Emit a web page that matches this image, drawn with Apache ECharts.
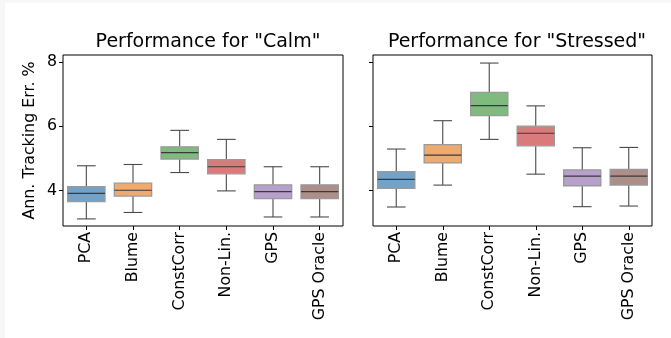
<!DOCTYPE html>
<html>
<head>
<meta charset="utf-8">
<script src="https://cdn.jsdelivr.net/npm/echarts@6/dist/echarts.min.js"></script>
<style>
html,body{margin:0;padding:0;background:#f7f7f7;}
#chart{width:671px;height:338px;}
</style>
</head>
<body>
<div id="chart"></div>
<script>
// ---- data ----
var categories = ['PCA', 'Blume', 'ConstCorr', 'Non-Lin.', 'GPS', 'GPS Oracle'];
// [lower whisker, Q1, median, Q3, upper whisker]
var calm = [
  [3.12, 3.66, 3.91, 4.12, 4.77],
  [3.32, 3.83, 4.01, 4.23, 4.81],
  [4.56, 4.98, 5.18, 5.36, 5.87],
  [3.99, 4.52, 4.74, 4.96, 5.59],
  [3.18, 3.75, 3.97, 4.18, 4.74],
  [3.18, 3.75, 3.97, 4.18, 4.74]
];
var stressed = [
  [3.49, 4.07, 4.35, 4.59, 5.29],
  [4.17, 4.86, 5.10, 5.43, 6.17],
  [5.59, 6.33, 6.64, 7.05, 7.96],
  [4.51, 5.39, 5.78, 6.00, 6.63],
  [3.50, 4.15, 4.45, 4.64, 5.33],
  [3.52, 4.17, 4.45, 4.66, 5.34]
];
var yTicks = [4, 6, 8];
var titles = ['Performance for "Calm"', 'Performance for "Stressed"'];
var yLabel = 'Ann. Tracking Err. %';

// ---- styling ----
var colors = ['#73a2c8', '#eeab70', '#7fbb7f', '#da7b7b', '#b8a0cc', '#ae8f88'];
var FONT = 'DejaVu Sans';
var TICK_FS = 15.8;

function rows(arr) {
  return arr.map(function (r, i) { return [i].concat(r); });
}

function renderBox(params, api) {
  var i = api.value(0);
  var band = api.size([1, 0])[0];
  var bw = band * 0.8;
  var cw = bw * 0.5;
  var lo = api.coord([i, api.value(1)]);
  var q1 = api.coord([i, api.value(2)]);
  var md = api.coord([i, api.value(3)]);
  var q3 = api.coord([i, api.value(4)]);
  var hi = api.coord([i, api.value(5)]);
  var x = lo[0];
  var wStyle = { stroke: '#4a4a4a', lineWidth: 1.1, fill: null };
  return {
    type: 'group',
    children: [
      { type: 'line', shape: { x1: x, y1: hi[1], x2: x, y2: q3[1] }, style: wStyle },
      { type: 'line', shape: { x1: x, y1: q1[1], x2: x, y2: lo[1] }, style: wStyle },
      { type: 'line', shape: { x1: x - cw / 2, y1: hi[1], x2: x + cw / 2, y2: hi[1] }, style: wStyle },
      { type: 'line', shape: { x1: x - cw / 2, y1: lo[1], x2: x + cw / 2, y2: lo[1] }, style: wStyle },
      { type: 'rect', shape: { x: x - bw / 2, y: q3[1], width: bw, height: q1[1] - q3[1] },
        style: { fill: colors[i], stroke: '#9a9a9a', lineWidth: 1.3 } },
      { type: 'line', shape: { x1: x - bw / 2, y1: md[1], x2: x + bw / 2, y2: md[1] },
        style: { stroke: '#3a3a3a', lineWidth: 1.2 } }
    ]
  };
}

var grids = [
  { left: 63, top: 55, width: 280, height: 171, show: true, borderColor: '#000', borderWidth: 1, backgroundColor: '#fff' },
  { left: 373, top: 55, width: 279, height: 171, show: true, borderColor: '#000', borderWidth: 1, backgroundColor: '#fff' }
];

function xAxis(g) {
  return {
    type: 'category', gridIndex: g, data: categories,
    axisLine: { show: false },
    axisTick: { show: true, alignWithLabel: true, length: 4, lineStyle: { color: '#000' } },
    axisLabel: { rotate: 90, margin: 6, fontFamily: FONT, fontSize: TICK_FS, color: '#000', interval: 0 },
    splitLine: { show: false }
  };
}
function yAxis(g, showLabels) {
  return {
    type: 'value', gridIndex: g, min: 2.9, max: 8.21,
    axisLine: { show: false },
    axisTick: { show: true, length: 4, lineStyle: { color: '#000' }, customValues: yTicks },
    axisLabel: { show: showLabels, margin: 6, fontFamily: FONT, fontSize: TICK_FS, color: '#000', customValues: yTicks },
    splitLine: { show: false },
    name: showLabels ? yLabel : '',
    nameLocation: 'middle', nameGap: 25,
    nameTextStyle: { fontFamily: FONT, fontSize: TICK_FS, color: '#000' }
  };
}

var chart = echarts.init(document.getElementById('chart'), null, { renderer: 'canvas' });
chart.setOption({
  animation: false,
  backgroundColor: 'transparent',
  graphic: [{ type: 'rect', z: -100, shape: { x: 5, y: 3, width: 666, height: 335 }, style: { fill: '#fff' }, silent: true }],
  title: [
    { text: titles[0], left: 203, top: 28, textAlign: 'center',
      textStyle: { fontFamily: FONT, fontSize: 19, fontWeight: 'normal', color: '#000' } },
    { text: titles[1], left: 512, top: 28, textAlign: 'center',
      textStyle: { fontFamily: FONT, fontSize: 19, fontWeight: 'normal', color: '#000' } }
  ],
  grid: grids,
  xAxis: [xAxis(0), xAxis(1)],
  yAxis: [yAxis(0, true), yAxis(1, false)],
  series: [
    { type: 'custom', xAxisIndex: 0, yAxisIndex: 0, renderItem: renderBox,
      encode: { x: 0, y: [1, 2, 3, 4, 5] }, data: rows(calm) },
    { type: 'custom', xAxisIndex: 1, yAxisIndex: 1, renderItem: renderBox,
      encode: { x: 0, y: [1, 2, 3, 4, 5] }, data: rows(stressed) }
  ]
});
</script>
</body>
</html>
